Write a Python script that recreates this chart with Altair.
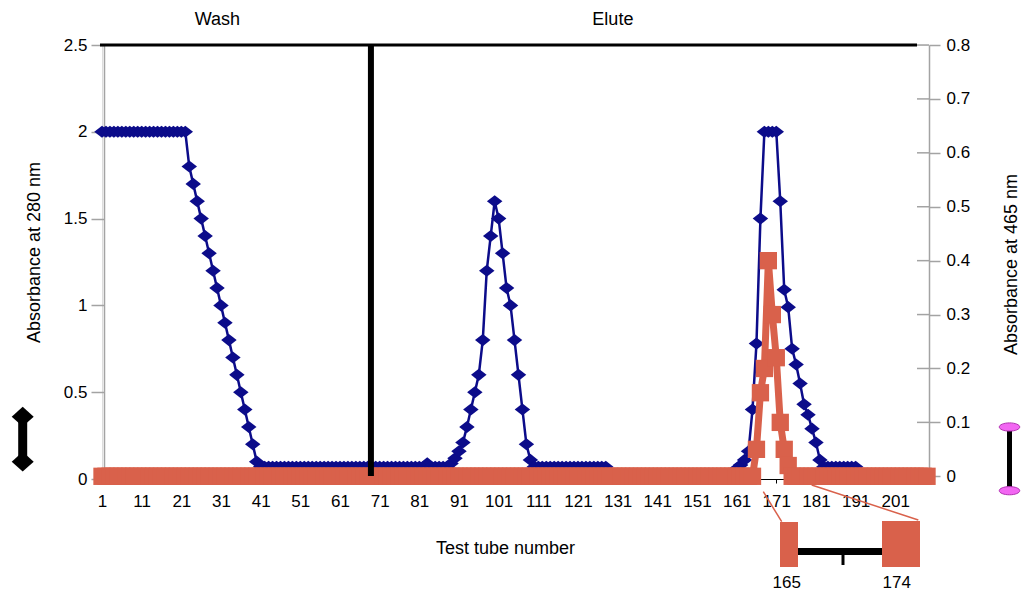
import altair as alt
import pandas as pd

# ---------------- data ----------------
tubes = list(range(1, 210))

# Absorbance at 280 nm (blue, left axis), by tube segment
a280_wash_plateau = [2.0, 2.0, 2.0, 2.0, 2.0, 2.0, 2.0, 2.0, 2.0, 2.0, 2.0,
                     2.0, 2.0, 2.0, 2.0, 2.0, 2.0, 2.0, 2.0, 2.0, 2.0, 2.0]          # 1-22
a280_wash_decline = [1.8, 1.7, 1.6, 1.5, 1.4, 1.3, 1.2, 1.1, 1.0,
                     0.9, 0.8, 0.7, 0.6, 0.5, 0.4, 0.3, 0.2, 0.1]                  # 23-40
a280_base_a = [0.07, 0.07, 0.07, 0.07, 0.07, 0.07, 0.07, 0.07, 0.07, 0.07, 0.07, 0.07, 0.07, 0.07,
               0.07, 0.07, 0.07, 0.07, 0.07, 0.07, 0.07, 0.07, 0.07, 0.07, 0.07, 0.07, 0.07, 0.07,
               0.07, 0.07, 0.07, 0.07, 0.07, 0.07, 0.07, 0.07, 0.07, 0.07, 0.07, 0.07, 0.07, 0.07]  # 41-82
a280_bump = [0.09]                                                                # 83
a280_base_b = [0.07, 0.07, 0.07, 0.07, 0.07]                                      # 84-88
a280_peak1 = [0.09, 0.12, 0.16, 0.21, 0.3, 0.4, 0.5, 0.6, 0.8, 1.2, 1.4,
              1.6, 1.5, 1.3, 1.1, 1.0, 0.8, 0.6, 0.4, 0.2, 0.11]                  # 89-109
a280_base_c = [0.07, 0.07, 0.07, 0.07, 0.07, 0.07, 0.07, 0.07, 0.07, 0.07,
               0.07, 0.07, 0.07, 0.07, 0.07, 0.07, 0.07, 0.07, 0.07]              # 110-128
a280_low_a = [0.02, 0.02, 0.02, 0.02, 0.02, 0.02, 0.02, 0.02, 0.02, 0.02, 0.02,
              0.02, 0.02, 0.02, 0.02, 0.02, 0.02, 0.02, 0.02, 0.02, 0.02, 0.02,
              0.02, 0.02, 0.02, 0.02, 0.02, 0.02, 0.02, 0.02, 0.02]               # 129-159
a280_peak2 = [0.04, 0.06, 0.08, 0.11, 0.16, 0.4, 0.78, 1.5, 2.0, 2.0, 2.0, 2.0,
              1.6, 1.09, 0.99, 0.75, 0.66, 0.55, 0.43, 0.37, 0.29, 0.21, 0.11]    # 160-182
a280_base_d = [0.07, 0.07, 0.07, 0.07, 0.07, 0.07, 0.07, 0.07, 0.07]              # 183-191
a280_low_b = [0.02, 0.02, 0.02, 0.02, 0.02, 0.02, 0.02, 0.02, 0.02,
              0.02, 0.02, 0.02, 0.02, 0.02, 0.02, 0.02, 0.02, 0.02]               # 192-209

# Absorbance at 465 nm (orange, right axis)
a465_before = [0.0, 0.0, 0.0, 0.0, 0.0, 0.0, 0.0, 0.0, 0.0, 0.0, 0.0, 0.0, 0.0, 0.0, 0.0,
               0.0, 0.0, 0.0, 0.0, 0.0, 0.0, 0.0, 0.0, 0.0, 0.0, 0.0, 0.0, 0.0, 0.0, 0.0,
               0.0, 0.0, 0.0, 0.0, 0.0, 0.0, 0.0, 0.0, 0.0, 0.0, 0.0, 0.0, 0.0, 0.0, 0.0,
               0.0, 0.0, 0.0, 0.0, 0.0, 0.0, 0.0, 0.0, 0.0, 0.0, 0.0, 0.0, 0.0, 0.0, 0.0,
               0.0, 0.0, 0.0, 0.0, 0.0, 0.0, 0.0, 0.0, 0.0, 0.0, 0.0, 0.0, 0.0, 0.0, 0.0,
               0.0, 0.0, 0.0, 0.0, 0.0, 0.0, 0.0, 0.0, 0.0, 0.0, 0.0, 0.0, 0.0, 0.0, 0.0,
               0.0, 0.0, 0.0, 0.0, 0.0, 0.0, 0.0, 0.0, 0.0, 0.0, 0.0, 0.0, 0.0, 0.0, 0.0,
               0.0, 0.0, 0.0, 0.0, 0.0, 0.0, 0.0, 0.0, 0.0, 0.0, 0.0, 0.0, 0.0, 0.0, 0.0,
               0.0, 0.0, 0.0, 0.0, 0.0, 0.0, 0.0, 0.0, 0.0, 0.0, 0.0, 0.0, 0.0, 0.0, 0.0,
               0.0, 0.0, 0.0, 0.0, 0.0, 0.0, 0.0, 0.0, 0.0, 0.0, 0.0, 0.0, 0.0, 0.0, 0.0,
               0.0, 0.0, 0.0, 0.0, 0.0, 0.0, 0.0, 0.0, 0.0, 0.0, 0.0, 0.0, 0.0, 0.0, 0.0]  # 1-165
a465_peak = [0.05, 0.155, 0.2, 0.4, 0.3, 0.22, 0.1, 0.05, 0.02]                    # 166-174
a465_after = [0.0, 0.0, 0.0, 0.0, 0.0, 0.0, 0.0, 0.0, 0.0, 0.0, 0.0, 0.0, 0.0, 0.0, 0.0,
              0.0, 0.0, 0.0, 0.0, 0.0, 0.0, 0.0, 0.0, 0.0, 0.0, 0.0, 0.0, 0.0, 0.0, 0.0,
              0.0, 0.0, 0.0, 0.0, 0.0]                                             # 175-209

a280 = (a280_wash_plateau + a280_wash_decline + a280_base_a + a280_bump + a280_base_b
        + a280_peak1 + a280_base_c + a280_low_a + a280_peak2 + a280_base_d + a280_low_b)
a465 = a465_before + a465_peak + a465_after
assert len(a280) == len(tubes) == len(a465)

x_ticks = [1, 11, 21, 31, 41, 51, 61, 71, 81, 91, 101, 111, 121, 131, 141, 151, 161, 171, 181, 191, 201]
left_ticks = [0, 0.5, 1, 1.5, 2, 2.5]
right_ticks = [0, 0.1, 0.2, 0.3, 0.4, 0.5, 0.6, 0.7, 0.8]

phase_tubes = [30.1, 129.8]
phase_labels = ["Wash", "Elute"]
divider_tube = [68.8]
inset_labels = ["165", "174"]

# ---------------- styles ----------------
FONT = "Liberation Sans"
BLUE = "#0c0c8a"
ORANGE = "#d9614b"
GREY = "#a3a3a3"
MAGENTA = "#f266f2"

W, H = 827, 434
DX = 2  # left value axis sits 2 px right of the plot's left edge

df = pd.DataFrame({"tube": tubes, "a280": a280, "a465": a465})
phase_df = pd.DataFrame({"tube": phase_tubes, "label": phase_labels})
divider_df = pd.DataFrame({"tube": divider_tube})
rticks_df = pd.DataFrame({"a465": right_ticks})
one = pd.DataFrame({"d": [0]})

x_def = alt.X(
    "tube:Q",
    scale=alt.Scale(domain=[1, 209.5], nice=False, zero=False),
    axis=alt.Axis(
        values=x_ticks, title="Test tube number", grid=False,
        labelOverlap=False, labelFlush=False,
        domainColor="black", tickColor="black", tickSize=4,
        labelPadding=10, labelFontSize=17, labelColor="black", labelFont=FONT,
        titleFontSize=18, titleFontWeight="normal", titleColor="black", titleFont=FONT,
        titleX=403, titleY=74, titleAlign="center", titleBaseline="alphabetic",
    ),
)

y_left = alt.Y(
    "a280:Q",
    scale=alt.Scale(domain=[0, 2.5], nice=False, zero=False),
    axis=alt.Axis(
        values=left_ticks, format="~g", title="Absorbance at 280 nm", grid=False, offset=-DX,
        domainColor=GREY, domainWidth=1.5, tickColor=GREY, tickWidth=1.5, tickSize=13,
        labelPadding=4, labelFontSize=17, labelColor="black", labelFont=FONT,
        titleFontSize=18, titleFontWeight="normal", titleColor="black", titleFont=FONT,
        titleAngle=270, titleX=-65, titleY=207, titleAlign="center", titleBaseline="alphabetic",
    ),
)

y_right = alt.Y(
    "a465:Q",
    scale=alt.Scale(domain=[-0.005, 0.8], nice=False, zero=False),
    axis=alt.Axis(
        orient="right", values=right_ticks, format="~g", title="Absorbance at 465 nm", grid=False,
        domainColor=GREY, domainWidth=1.5, tickColor=GREY, tickWidth=1.5, tickSize=11,
        labelPadding=6, labelFontSize=17, labelColor="black", labelFont=FONT,
        titleFontSize=18, titleFontWeight="normal", titleColor="black", titleFont=FONT,
        titleAngle=270, titleX=87, titleY=219, titleAlign="center", titleBaseline="alphabetic",
    ),
)

diamond = "M-1,0L0,-0.78L1,0L0,0.78Z"
big_diamond = "M-1,0L0,-0.9L1,0L0,0.9Z"
ellipse = "M-1,0A1,0.4 0 1,0 1,0A1,0.4 0 1,0 -1,0Z"

# ---------------- left (280 nm) group ----------------
blue_line = alt.Chart(df).mark_line(color=BLUE, strokeWidth=2.5).encode(x=x_def, y=y_left)
blue_pts = alt.Chart(df).mark_point(shape=diamond, size=240, filled=True, color=BLUE, opacity=1).encode(
    x=x_def, y=y_left)
phase_text = alt.Chart(phase_df).mark_text(
    font=FONT, fontSize=18, color="black", align="center", baseline="alphabetic"
).encode(x=x_def, y=alt.value(-20), text="label:N")

left = alt.layer(blue_line, blue_pts, phase_text)

# ---------------- right (465 nm) group ----------------
rticks = alt.Chart(rticks_df).mark_rule(color=GREY, strokeWidth=1.5).encode(
    y=y_right, x=alt.value(W - 12), x2=alt.value(W))
orange_line = alt.Chart(df).mark_line(color=ORANGE, strokeWidth=7).encode(x=x_def, y=y_right)
orange_pts = alt.Chart(df).mark_point(shape="square", size=300, filled=True, color=ORANGE, opacity=1).encode(
    x=x_def, y=y_right)
divider = alt.Chart(divider_df).mark_rule(color="black", strokeWidth=6).encode(
    x=x_def, y=alt.value(0), y2=alt.value(431))
top_line = alt.Chart(one).mark_rule(color="black", strokeWidth=3).encode(
    x=alt.value(DX - 4), x2=alt.value(DX + 813), y=alt.value(0))


def seg(x, y, x2, y2, color, width):
    return alt.Chart(one).mark_rule(color=color, strokeWidth=width).encode(
        x=alt.value(x + DX), y=alt.value(y), x2=alt.value(x2 + DX), y2=alt.value(y2))


def dot(x, y, shape, size, fill, stroke=None):
    kw = dict(shape=shape, size=size, filled=True, color=fill, opacity=1)
    if stroke:
        kw.update(stroke=stroke, strokeWidth=1)
    return alt.Chart(one).mark_point(**kw).encode(x=alt.value(x + DX), y=alt.value(y))


def box(x, y, x2, y2, color):
    return alt.Chart(one).mark_rect(color=color).encode(
        x=alt.value(x + DX), y=alt.value(y), x2=alt.value(x2 + DX), y2=alt.value(y2))


def label(x, y, txt):
    return alt.Chart(one).mark_text(text=txt, font=FONT, fontSize=17, color="black",
                                    align="center", baseline="alphabetic").encode(
        x=alt.value(x + DX), y=alt.value(y))


decor = [
    # left black double-diamond marker
    seg(-81.3, 371.7, -81.3, 416.7, "black", 9),
    dot(-81.3, 371.7, big_diamond, 484, "black"),
    dot(-81.3, 416.7, big_diamond, 484, "black"),
    # right magenta dumbbell marker
    seg(905.5, 382, 905.5, 445.7, "black", 5),
    dot(905.5, 382, ellipse, 420, MAGENTA, "#b030b0"),
    dot(905.5, 445.7, ellipse, 420, MAGENTA, "#b030b0"),
    # zoom inset under the second peak
    seg(659.3, 446.7, 677.7, 476.7, ORANGE, 1.5),
    seg(707.7, 440, 814.3, 475, ORANGE, 1.5),
    box(676, 477, 694, 522, ORANGE),
    box(778, 476, 816, 522, ORANGE),
    seg(694, 506.5, 778, 506.5, "black", 7),
    seg(739, 510, 739, 520, "black", 3),
    label(682.7, 543, inset_labels[0]),
    label(792.7, 543, inset_labels[1]),
]

right = alt.layer(rticks, orange_line, orange_pts, divider, top_line, *decor)

chart = (
    alt.layer(left, right)
    .resolve_scale(y="independent")
    .properties(
        width=W, height=H,
        autosize=alt.AutoSizeParams(type="none"),
        padding={"left": 104 - DX, "top": 45, "right": 92, "bottom": 113},
    )
    .configure_view(strokeWidth=0)
    .configure(font=FONT)
)

chart.save("out.html", embed_options={"renderer": "svg", "actions": False})
